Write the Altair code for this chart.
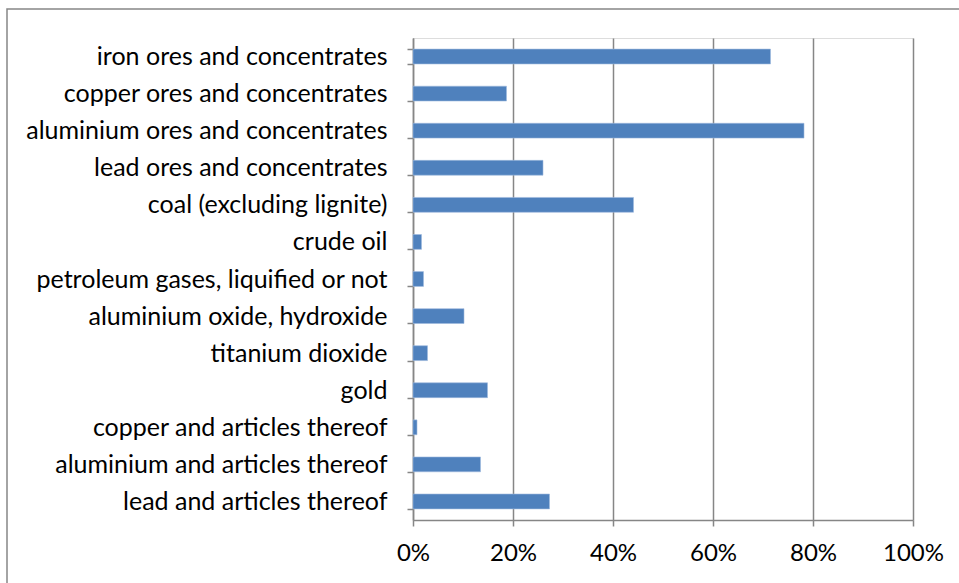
import altair as alt
import pandas as pd

categories = [
    "iron ores and concentrates",
    "copper ores and concentrates",
    "aluminium ores and concentrates",
    "lead ores and concentrates",
    "coal (excluding lignite)",
    "crude oil",
    "petroleum gases, liquified or not",
    "aluminium oxide, hydroxide",
    "titanium dioxide",
    "gold",
    "copper and articles thereof",
    "aluminium and articles thereof",
    "lead and articles thereof",
]
shares = [0.715, 0.187, 0.782, 0.260, 0.441, 0.017, 0.021, 0.102, 0.029, 0.149, 0.008, 0.135, 0.273]
x_ticks = [0, 0.2, 0.4, 0.6, 0.8, 1.0]

df = pd.DataFrame({"category": categories, "share": shares})

FONT = "Lato"
FS = 25
GRAY = "#868686"

bars = alt.Chart(df).mark_bar(color="#4F81BD", stroke="#9DB9DE", strokeWidth=0.6).encode(
    x=alt.X(
        "share:Q",
        scale=alt.Scale(domain=[0, 1], nice=False),
        axis=alt.Axis(
            values=x_ticks,
            format=".0%",
            grid=True,
            gridColor=GRAY,
            gridWidth=1.5,
            domainColor=GRAY,
            domainWidth=1.5,
            tickColor=GRAY,
            tickWidth=1.5,
            tickSize=6,
            labelFont=FONT,
            labelFontSize=24,
            labelColor="#000000",
            labelPadding=15,
            labelFlush=False,
            labelOverlap=False,
            title=None,
        ),
    ),
    y=alt.Y(
        "category:N",
        sort=categories,
        scale=alt.Scale(paddingInner=0.6, paddingOuter=0.3),
        axis=alt.Axis(
            domainColor=GRAY,
            domainWidth=1.5,
            tickColor=GRAY,
            tickWidth=1.5,
            tickSize=6,
            tickBand="extent",
            labelFont=FONT,
            labelFontSize=FS,
            labelColor="#000000",
            labelPadding=20,
            labelLimit=500,
            title=None,
        ),
    ),
)

frame = alt.Chart(pd.DataFrame({"k": [0]})).mark_rect(
    fill=None, stroke=GRAY, strokeWidth=1.5, clip=False
).encode(
    x=alt.value(-406), x2=alt.value(600), y=alt.value(-29), y2=alt.value(600)
)

chart = alt.layer(frame, bars).properties(
    width=500,
    height=482,
    autosize=alt.AutoSizeParams(type="none"),
    padding={"left": 413, "top": 38, "right": 46, "bottom": 63},
).configure_view(stroke=None).configure(background="white")

chart.save("out.html", embed_options={"renderer": "svg", "actions": False})
